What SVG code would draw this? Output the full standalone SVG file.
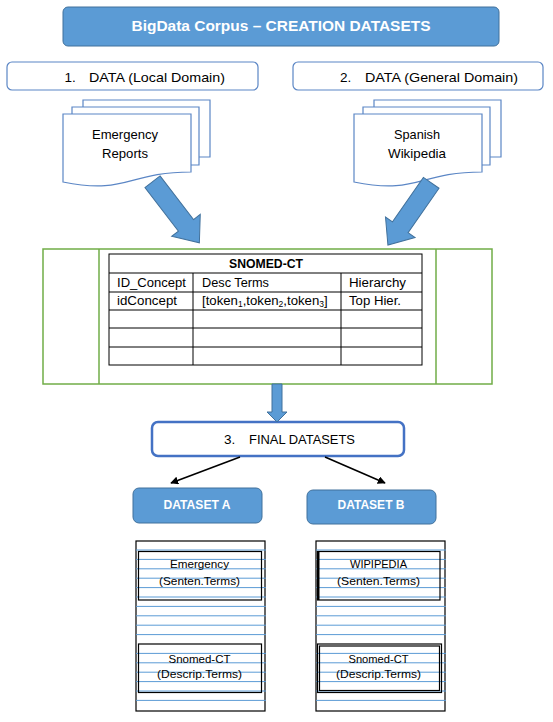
<svg xmlns="http://www.w3.org/2000/svg" width="553" height="722" viewBox="0 0 553 722">
<style>
text{font-family:"Liberation Sans",Arial,sans-serif;fill:#000}
.wb{fill:#fff;font-weight:bold}
.blue{fill:#5B9BD5;stroke:#41719C;stroke-width:1}
.outl{fill:#fff;stroke:#5B86C5;stroke-width:1.2}
.doc{fill:#fff;stroke:#5B86C5;stroke-width:1.2}
.grn{fill:none;stroke:#70AD47;stroke-width:1.5}
.tb{fill:none;stroke:#000;stroke-width:1}
.bl{stroke:#5B9BD5;stroke-width:1}
.bk{fill:none;stroke:#000;stroke-width:1.2}
.conn{stroke:#000;stroke-width:1.6;fill:none}
</style>
<defs>
<marker id="ah" viewBox="0 0 10 10" refX="9" refY="5" markerWidth="5" markerHeight="5" orient="auto" markerUnits="strokeWidth">
<path d="M0,0 L10,5 L0,10 Z" fill="#000"/>
</marker>
<polygon id="bigArrow" points="0,-9.5 55,-9.5 55,-18 77,0 55,18 55,9.5 0,9.5"/>
</defs>

<g id="title">
<rect x="63" y="7" width="436" height="39" rx="5" class="blue"/>
<text x="281" y="31" class="wb" font-size="15.5" text-anchor="middle" textLength="299" lengthAdjust="spacingAndGlyphs">BigData Corpus – CREATION DATASETS</text>
</g>

<g id="data1">
<rect x="7" y="62" width="251" height="28" rx="5" class="outl"/>
<text x="64.5" y="82" font-size="13.5">1.</text>
<text x="89" y="82" font-size="13.5" textLength="136" lengthAdjust="spacingAndGlyphs">DATA (Local Domain)</text>
</g>

<g id="data2">
<rect x="293" y="62" width="250" height="28" rx="5" class="outl"/>
<text x="340" y="82" font-size="13.5">2.</text>
<text x="365" y="82" font-size="13.5" textLength="153" lengthAdjust="spacingAndGlyphs">DATA (General Domain)</text>
</g>

<g id="docEmergency">
<path class="doc" d="M83,107 V100 H210 V157 H199"/>
<path class="doc" d="M72,114 V107 H199 V165 H191"/>
<path class="doc" d="M63,114 H191 V172 C127,172 127,195 63,182 Z"/>
<text x="125" y="139" font-size="13" text-anchor="middle" textLength="66" lengthAdjust="spacingAndGlyphs">Emergency</text>
<text x="125" y="157.5" font-size="13" text-anchor="middle" textLength="46" lengthAdjust="spacingAndGlyphs">Reports</text>
</g>

<g id="docWikipedia">
<path class="doc" d="M374,107 V100 H501 V157 H490"/>
<path class="doc" d="M363,114 V107 H490 V165 H482"/>
<path class="doc" d="M354,114 H482 V172 C418,172 418,195 354,182 Z"/>
<text x="417" y="139" font-size="13" text-anchor="middle" textLength="46" lengthAdjust="spacingAndGlyphs">Spanish</text>
<text x="417" y="157.5" font-size="13" text-anchor="middle" textLength="58" lengthAdjust="spacingAndGlyphs">Wikipedia</text>
</g>

<g id="snomed">
<rect x="43" y="249" width="449" height="135" class="grn"/>
<line x1="99" y1="249" x2="99" y2="384" class="grn"/>
<line x1="436" y1="249" x2="436" y2="384" class="grn"/>
<rect x="109" y="254" width="313" height="111" class="tb"/>
<line x1="109" y1="273" x2="422" y2="273" class="tb"/>
<line x1="109" y1="292" x2="422" y2="292" class="tb"/>
<line x1="109" y1="310" x2="422" y2="310" class="tb"/>
<line x1="109" y1="328" x2="422" y2="328" class="tb"/>
<line x1="109" y1="347" x2="422" y2="347" class="tb"/>
<line x1="193" y1="273" x2="193" y2="365" class="tb"/>
<line x1="341" y1="273" x2="341" y2="365" class="tb"/>
<text x="266" y="268" font-size="12.5" font-weight="bold" text-anchor="middle" textLength="74" lengthAdjust="spacingAndGlyphs">SNOMED-CT</text>
<text x="117" y="287" font-size="12.5" textLength="69" lengthAdjust="spacingAndGlyphs">ID_Concept</text>
<text x="202" y="287" font-size="12.5" textLength="67" lengthAdjust="spacingAndGlyphs">Desc Terms</text>
<text x="349" y="287" font-size="12.5" textLength="57" lengthAdjust="spacingAndGlyphs">Hierarchy</text>
<text x="117" y="305" font-size="12.5" textLength="60" lengthAdjust="spacingAndGlyphs">idConcept</text>
<text x="202" y="305" font-size="13.2">[token<tspan font-size="8.5" dy="2">1</tspan><tspan dy="-2">,token</tspan><tspan font-size="8.5" dy="2">2</tspan><tspan dy="-2">,token</tspan><tspan font-size="8.5" dy="2">3</tspan><tspan dy="-2">]</tspan></text>
<text x="349" y="305" font-size="12.5" textLength="52" lengthAdjust="spacingAndGlyphs">Top Hier.</text>
</g>

<g id="finalDatasets">
<rect x="152" y="422" width="252" height="34" rx="6" fill="#fff" stroke="#4472C4" stroke-width="2.5"/>
<text x="224" y="443.5" font-size="13.5">3.</text>
<text x="249" y="443.5" font-size="13.5" textLength="106" lengthAdjust="spacingAndGlyphs">FINAL DATASETS</text>
</g>

<g id="datasetA">
<rect x="133" y="488" width="129" height="35" rx="6" class="blue"/>
<text x="197" y="509" class="wb" font-size="12.5" text-anchor="middle" textLength="67" lengthAdjust="spacingAndGlyphs">DATASET A</text>
</g>

<g id="datasetB">
<rect x="307" y="490" width="129" height="34" rx="6" class="blue"/>
<text x="371" y="509" class="wb" font-size="12.5" text-anchor="middle" textLength="67" lengthAdjust="spacingAndGlyphs">DATASET B</text>
</g>

<g id="pageA">
<rect x="136" y="541" width="129" height="170" class="bk"/>
<g class="bl">
<line x1="136" y1="550" x2="266" y2="550"/><line x1="136" y1="559.4" x2="266" y2="559.4"/><line x1="136" y1="568.8" x2="266" y2="568.8"/><line x1="136" y1="578.2" x2="266" y2="578.2"/><line x1="136" y1="587.6" x2="266" y2="587.6"/><line x1="136" y1="597" x2="266" y2="597"/><line x1="136" y1="606.4" x2="266" y2="606.4"/><line x1="136" y1="615.8" x2="266" y2="615.8"/><line x1="136" y1="625.2" x2="266" y2="625.2"/><line x1="136" y1="634.6" x2="266" y2="634.6"/><line x1="136" y1="653.4" x2="266" y2="653.4"/><line x1="136" y1="662.8" x2="266" y2="662.8"/><line x1="136" y1="672.2" x2="266" y2="672.2"/><line x1="136" y1="681.6" x2="266" y2="681.6"/><line x1="136" y1="691" x2="266" y2="691"/><line x1="136" y1="700.4" x2="266" y2="700.4"/>
</g>
<rect x="138.5" y="551.5" width="123" height="48.5" class="bk"/>
<rect x="138.5" y="644" width="123" height="48.5" class="bk"/>
<text x="199.5" y="568" font-size="11.5" text-anchor="middle" textLength="59" lengthAdjust="spacingAndGlyphs">Emergency</text>
<text x="199.5" y="585" font-size="11.5" text-anchor="middle" textLength="81" lengthAdjust="spacingAndGlyphs">(Senten.Terms)</text>
<text x="199.5" y="663" font-size="11.5" text-anchor="middle" textLength="62" lengthAdjust="spacingAndGlyphs">Snomed-CT</text>
<text x="199.5" y="677.5" font-size="11.5" text-anchor="middle" textLength="85" lengthAdjust="spacingAndGlyphs">(Descrip.Terms)</text>
</g>

<g id="pageB">
<rect x="316" y="541" width="129" height="170" class="bk"/>
<g class="bl">
<line x1="316" y1="550" x2="446" y2="550"/><line x1="316" y1="559.4" x2="446" y2="559.4"/><line x1="316" y1="568.8" x2="446" y2="568.8"/><line x1="316" y1="578.2" x2="446" y2="578.2"/><line x1="316" y1="587.6" x2="446" y2="587.6"/><line x1="316" y1="597" x2="446" y2="597"/><line x1="316" y1="606.4" x2="446" y2="606.4"/><line x1="316" y1="615.8" x2="446" y2="615.8"/><line x1="316" y1="625.2" x2="446" y2="625.2"/><line x1="316" y1="634.6" x2="446" y2="634.6"/><line x1="316" y1="653.4" x2="446" y2="653.4"/><line x1="316" y1="662.8" x2="446" y2="662.8"/><line x1="316" y1="672.2" x2="446" y2="672.2"/><line x1="316" y1="681.6" x2="446" y2="681.6"/><line x1="316" y1="691" x2="446" y2="691"/><line x1="316" y1="700.4" x2="446" y2="700.4"/>
</g>
<rect x="317.5" y="551.5" width="122.5" height="48.5" class="bk"/>
<line x1="318.5" y1="551.5" x2="318.5" y2="600" stroke="#000" stroke-width="2"/>
<rect x="317.5" y="644" width="124" height="48.5" class="bk"/>
<rect x="319.5" y="646" width="120" height="44.5" class="bk" stroke-width="0.8"/>
<text x="378.5" y="568" font-size="11.5" text-anchor="middle" textLength="57" lengthAdjust="spacingAndGlyphs">WIPIPEDIA</text>
<text x="378.5" y="585" font-size="11.5" text-anchor="middle" textLength="83" lengthAdjust="spacingAndGlyphs">(Senten.Terms)</text>
<text x="378.5" y="663" font-size="11.5" text-anchor="middle" textLength="60" lengthAdjust="spacingAndGlyphs">Snomed-CT</text>
<text x="378.5" y="677.5" font-size="11.5" text-anchor="middle" textLength="85" lengthAdjust="spacingAndGlyphs">(Descrip.Terms)</text>
</g>

<g id="connectors">
<use href="#bigArrow" class="blue" transform="translate(152.5,181.7) rotate(52.5)"/>
<use href="#bigArrow" class="blue" transform="translate(431.2,182.8) rotate(124.8) scale(0.985,1)"/>
<polygon class="blue" points="272,384 282,384 282,412 287,412 277,422 267,412 272,412"/>
<line x1="240" y1="457" x2="171" y2="483" class="conn" marker-end="url(#ah)"/>
<line x1="325" y1="457" x2="385" y2="483" class="conn" marker-end="url(#ah)"/>
</g>
</svg>
